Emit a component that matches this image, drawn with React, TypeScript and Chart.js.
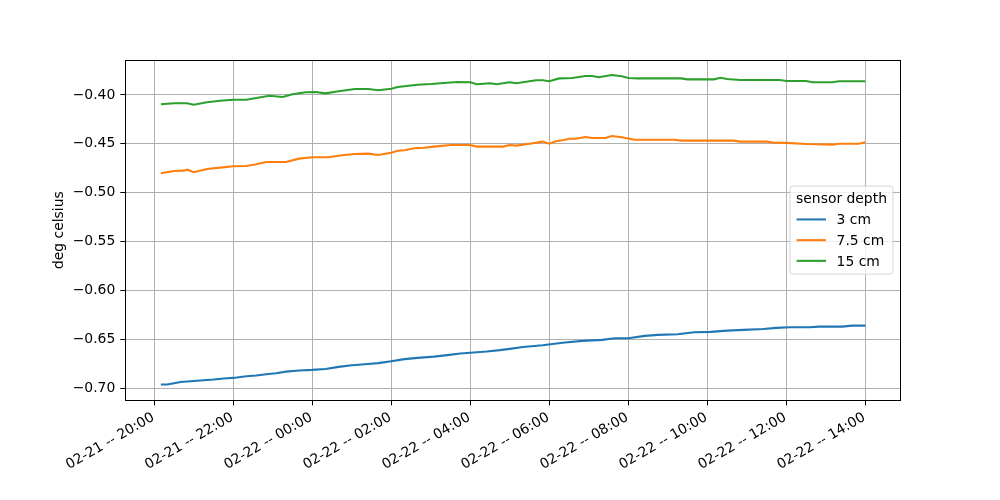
import { useEffect, useRef } from 'react';
import { Chart, registerables } from 'chart.js';

Chart.register(...registerables);

// x values are minutes after 02-21 20:00
const xTickMinutes = [0, 120, 240, 360, 480, 600, 720, 840, 960, 1080];
const xTickLabels = [
  '02-21 -- 20:00',
  '02-21 -- 22:00',
  '02-22 -- 00:00',
  '02-22 -- 02:00',
  '02-22 -- 04:00',
  '02-22 -- 06:00',
  '02-22 -- 08:00',
  '02-22 -- 10:00',
  '02-22 -- 12:00',
  '02-22 -- 14:00',
];
const yTickValues = [-0.7, -0.65, -0.6, -0.55, -0.5, -0.45, -0.4];
const yTickLabels = ['−0.70', '−0.65', '−0.60', '−0.55', '−0.50', '−0.45', '−0.40'];

const seriesLabels = ['3 cm', '7.5 cm', '15 cm'];
const seriesColors = ['#1f77b4', '#ff7f0e', '#2ca02c'];

const blueMinutes = [10, 20, 40, 60, 90, 110, 120, 140, 155, 170, 185, 200, 220, 240, 260, 280, 300, 320, 340, 360, 380, 400, 425, 445, 465, 485, 505, 525, 540, 560, 590, 620, 650, 680, 700, 720, 745, 765, 795, 820, 845, 870, 895, 925, 945, 965, 995, 1010, 1045, 1060, 1080];
const blueValues = [-0.6962, -0.6962, -0.6935, -0.6925, -0.6911, -0.6897, -0.6894, -0.6877, -0.687, -0.6856, -0.6846, -0.683, -0.6819, -0.6812, -0.6802, -0.6781, -0.6764, -0.6754, -0.6743, -0.6723, -0.6702, -0.6689, -0.6676, -0.6661, -0.6644, -0.6634, -0.6624, -0.661, -0.6597, -0.6577, -0.6559, -0.6535, -0.6515, -0.6505, -0.6488, -0.6488, -0.6464, -0.6454, -0.6447, -0.6427, -0.6423, -0.641, -0.6403, -0.6393, -0.6382, -0.6375, -0.6375, -0.6369, -0.6369, -0.6359, -0.6359];

const orangeMinutes = [10, 30, 45, 50, 60, 80, 100, 120, 140, 155, 170, 200, 220, 240, 265, 285, 305, 325, 340, 360, 370, 380, 395, 410, 425, 450, 480, 490, 530, 540, 550, 570, 590, 600, 610, 620, 630, 640, 655, 665, 685, 695, 710, 730, 755, 790, 800, 880, 890, 930, 940, 960, 990, 1030, 1040, 1070, 1080];
const orangeValues = [-0.4801, -0.4777, -0.4774, -0.4764, -0.479, -0.4757, -0.4743, -0.4729, -0.4726, -0.4709, -0.4685, -0.4685, -0.4651, -0.4637, -0.4637, -0.4617, -0.4603, -0.46, -0.4613, -0.459, -0.457, -0.4566, -0.4545, -0.4539, -0.4528, -0.4511, -0.4511, -0.4528, -0.4528, -0.4511, -0.4518, -0.4498, -0.4477, -0.4498, -0.4473, -0.4463, -0.4447, -0.4447, -0.4429, -0.444, -0.444, -0.4419, -0.4433, -0.4457, -0.4457, -0.4457, -0.4467, -0.4467, -0.4477, -0.4477, -0.4487, -0.449, -0.4501, -0.4508, -0.4498, -0.4498, -0.4484];

const greenMinutes = [10, 30, 50, 60, 80, 100, 120, 140, 155, 175, 195, 210, 230, 245, 260, 280, 305, 325, 340, 360, 370, 400, 420, 440, 460, 480, 490, 510, 520, 540, 550, 580, 590, 600, 615, 635, 655, 665, 675, 695, 710, 720, 735, 755, 800, 810, 850, 860, 870, 890, 950, 960, 990, 1000, 1030, 1040, 1080];
const greenValues = [-0.4095, -0.4085, -0.4085, -0.41, -0.4075, -0.4058, -0.4048, -0.4048, -0.4031, -0.4007, -0.402, -0.3993, -0.3972, -0.3969, -0.3983, -0.3962, -0.3939, -0.3939, -0.3952, -0.3937, -0.3918, -0.3895, -0.3888, -0.3877, -0.3867, -0.387, -0.389, -0.388, -0.389, -0.387, -0.388, -0.385, -0.385, -0.386, -0.383, -0.3826, -0.3806, -0.3806, -0.3819, -0.3796, -0.3809, -0.3826, -0.383, -0.383, -0.383, -0.384, -0.384, -0.3823, -0.3836, -0.3847, -0.3847, -0.3857, -0.3857, -0.387, -0.387, -0.386, -0.386];

const FONT = 'DejaVu Sans';
const FS = 13.9;

const framePlugin = {
  id: 'frameAndLegend',
  afterDatasetsDraw(chart: any) {
    const { ctx, chartArea } = chart;
    ctx.save();
    // spines
    ctx.strokeStyle = '#000';
    ctx.lineWidth = 1;
    ctx.strokeRect(
      Math.round(chartArea.left) + 0.5,
      Math.round(chartArea.top) + 0.5,
      Math.round(chartArea.right - chartArea.left),
      Math.round(chartArea.bottom - chartArea.top)
    );
    // legend (center right)
    const boxW = 103;
    const boxH = 88;
    const left = chartArea.right - 7 - boxW;
    const top = (chartArea.top + chartArea.bottom) / 2 - boxH / 2;
    const r = 3;
    ctx.beginPath();
    ctx.moveTo(left + r, top);
    ctx.lineTo(left + boxW - r, top);
    ctx.quadraticCurveTo(left + boxW, top, left + boxW, top + r);
    ctx.lineTo(left + boxW, top + boxH - r);
    ctx.quadraticCurveTo(left + boxW, top + boxH, left + boxW - r, top + boxH);
    ctx.lineTo(left + r, top + boxH);
    ctx.quadraticCurveTo(left, top + boxH, left, top + boxH - r);
    ctx.lineTo(left, top + r);
    ctx.quadraticCurveTo(left, top, left + r, top);
    ctx.closePath();
    ctx.fillStyle = 'rgba(255,255,255,0.8)';
    ctx.fill();
    ctx.strokeStyle = 'rgba(204,204,204,0.8)';
    ctx.lineWidth = 1;
    ctx.stroke();

    ctx.font = `${FS}px "${FONT}"`;
    ctx.fillStyle = '#000';
    ctx.textBaseline = 'alphabetic';
    ctx.textAlign = 'center';
    ctx.fillText('sensor depth', left + boxW / 2, top + 17.3);
    ctx.textAlign = 'left';
    chart.data.datasets.forEach((ds: any, i: number) => {
      const ly = top + 33.3 + i * 20.7;
      ctx.strokeStyle = ds.borderColor;
      ctx.lineWidth = 2.08;
      ctx.beginPath();
      ctx.moveTo(left + 6.6, ly);
      ctx.lineTo(left + 36, ly);
      ctx.stroke();
      ctx.fillStyle = '#000';
      ctx.fillText(ds.label, left + 46.6, top + 38.3 + i * 20.7);
    });
    ctx.restore();
  },
};

export default function App() {
  const ref = useRef<HTMLCanvasElement | null>(null);
  useEffect(() => {
    if (!ref.current) return;
    const mk = (mins: number[], vals: number[]) => mins.map((m, i) => ({ x: m, y: vals[i] }));
    const chart = new Chart(ref.current, {
      type: 'line',
      data: {
        datasets: [
          { label: seriesLabels[0], data: mk(blueMinutes, blueValues), borderColor: seriesColors[0] },
          { label: seriesLabels[1], data: mk(orangeMinutes, orangeValues), borderColor: seriesColors[1] },
          { label: seriesLabels[2], data: mk(greenMinutes, greenValues), borderColor: seriesColors[2] },
        ].map((d) => ({ ...d, borderWidth: 2.08, pointRadius: 0, tension: 0, fill: false, backgroundColor: d.borderColor })),
      },
      options: {
        responsive: false,
        animation: false,
        layout: { padding: { top: 60, right: 100, left: 0, bottom: 0 } },
        plugins: { legend: { display: false }, tooltip: { enabled: false }, title: { display: false } },
        scales: {
          x: {
            type: 'linear',
            min: -44,
            max: 1132.7,
            afterBuildTicks: (s: any) => {
              s.ticks = xTickMinutes.map((v) => ({ value: v }));
            },
            afterFit: (s: any) => {
              s.height = 99.7;
            },
            grid: { color: '#b0b0b0', lineWidth: 1, tickColor: '#000', tickLength: 5, tickWidth: 1 },
            border: { display: true, color: '#000', width: 1 },
            ticks: {
              autoSkip: false,
              minRotation: 30,
              maxRotation: 30,
              padding: 4,
              labelOffset: -1,
              color: '#000',
              font: { family: FONT, size: FS },
              callback: (v: any) => xTickLabels[xTickMinutes.indexOf(Number(v))] ?? '',
            },
          },
          y: {
            type: 'linear',
            min: -0.7123,
            max: -0.3642,
            afterBuildTicks: (s: any) => {
              s.ticks = yTickValues.map((v) => ({ value: v }));
            },
            afterFit: (s: any) => {
              s.width = 125.3;
            },
            grid: { color: '#b0b0b0', lineWidth: 1, tickColor: '#000', tickLength: 5, tickWidth: 1 },
            border: { display: true, color: '#000', width: 1 },
            ticks: {
              padding: 5,
              color: '#000',
              font: { family: FONT, size: FS },
              callback: (v: any) => {
                const i = yTickValues.findIndex((t) => Math.abs(t - Number(v)) < 1e-6);
                return i >= 0 ? yTickLabels[i] : '';
              },
            },
            title: {
              display: true,
              text: 'deg celsius',
              color: '#000',
              font: { family: FONT, size: FS },
              padding: { top: 51, bottom: 0 },
            },
          },
        },
      },
      plugins: [framePlugin],
    });
    return () => chart.destroy();
  }, []);
  return (
    <div style={{ position: 'fixed', left: 0, top: 0, width: 1000, height: 500, background: '#fff' }}>
      <canvas ref={ref} width={1000} height={500} style={{ width: 1000, height: 500 }} />
    </div>
  );
}
